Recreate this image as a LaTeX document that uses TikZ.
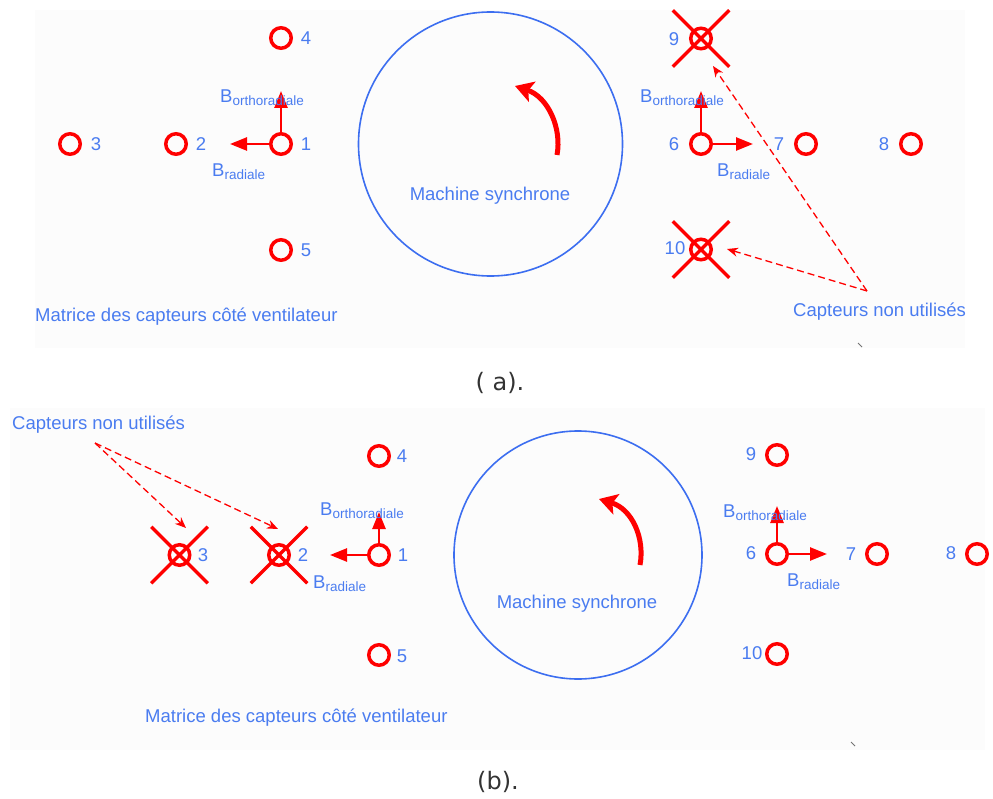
\documentclass[tikz,border=0pt]{standalone}
\usepackage{fontspec}
\setmainfont{Liberation Sans}
\newfontfamily\capfont{DejaVu Sans}
\usetikzlibrary{arrows.meta,shapes.misc}
\definecolor{tblue}{RGB}{74,124,240}
\definecolor{cblue}{RGB}{60,110,240}
\definecolor{sred}{RGB}{255,0,0}
\definecolor{panel}{RGB}{252,252,252}
\tikzset{
  sensor/.style={circle,draw=sred,line width=3.5pt,minimum size=20.5pt,inner sep=0pt},
  xmark/.style={cross out,draw=sred,line width=3.5pt,minimum size=53pt,inner sep=0pt},
  lbl/.style={text=tblue,font=\fontsize{18.5}{18.5}\selectfont,inner sep=0pt},
  vec/.style={draw=sred,line width=2.5pt,-{Triangle[length=17pt,width=13pt]}},
  rot/.style={draw=sred,line width=5pt,-{Stealth[length=18pt,width=21pt,inset=4pt]}},
  hint/.style={draw=sred,line width=1.3pt,dash pattern=on 7pt off 4pt,-{Stealth[length=11pt,width=9pt]}},
  machine/.style={circle,draw=cblue,line width=1.6pt,inner sep=0pt},
  captxt/.style={text=black!80,font=\capfont\fontsize{24}{24}\selectfont,inner sep=0pt},
  tick/.style={draw=black!55,line width=1pt}
}
\newcommand{\Bsub}[1]{B\raisebox{-3pt}{\fontsize{13.5}{13.5}\selectfont #1}}
\begin{document}
\begin{tikzpicture}[x=1pt,y=-1pt]
\useasboundingbox (0,0) rectangle (993,799);
% panels
\fill[panel] (35,10) rectangle (965,348);
\fill[panel] (10,408) rectangle (985,750);

% ================= (a) =================
\node[machine,minimum size=264pt] (ma) at (490.5,144) {};
\node[lbl] (mta) at (490,196) {Machine synchrone};
\coordinate (ra0) at (557,155);
\coordinate (ra1) at (515,86);
\draw[rot] (ra0) .. controls (562,128) and (548,97) .. (ra1);

% left matrix
\node[sensor] (a4) at (281,38) {};
\node[sensor] (a1) at (281,144) {};
\node[sensor] (a2) at (176,144) {};
\node[sensor] (a3) at (70,144) {};
\node[sensor] (a5) at (281,250) {};
\node[lbl] (la4) at (306,38) {4};
\node[lbl] (la1) at (306,144) {1};
\node[lbl] (la2) at (201,144) {2};
\node[lbl] (la3) at (96,144) {3};
\node[lbl] (la5) at (306,250) {5};
\coordinate (ta1l) at (230,144);
\coordinate (ta1u) at (281,91);
\draw[vec] (a1.west) -- (ta1l);
\draw[vec] (a1.north) -- (ta1u);
\node[lbl,anchor=base west] (ba1o) at (220,103) {\Bsub{orthoradiale}};
\node[lbl,anchor=base west] (ba1r) at (212,177) {\Bsub{radiale}};
\node[lbl,anchor=west] (mxa) at (35,317) {Matrice des capteurs côté ventilateur};

% right matrix
\node[sensor] (a9) at (701,38.5) {};
\node[sensor] (a6) at (701,144) {};
\node[sensor] (a7) at (806,144) {};
\node[sensor] (a8) at (911,144) {};
\node[sensor] (a10) at (701,249.5) {};
\node[xmark] (xa9) at (a9) {};
\node[xmark] (xa10) at (a10) {};
\node[lbl] (la9) at (674,39) {9};
\node[lbl] (la6) at (674,144) {6};
\node[lbl] (la7) at (779,144) {7};
\node[lbl] (la8) at (884,144) {8};
\node[lbl] (la10) at (675,248) {10};
\coordinate (ta6r) at (753,144);
\coordinate (ta6u) at (701,91);
\draw[vec] (a6.east) -- (ta6r);
\draw[vec] (a6.north) -- (ta6u);
\node[lbl,anchor=base west] (ba6o) at (640,103) {\Bsub{orthoradiale}};
\node[lbl,anchor=base west] (ba6r) at (717,177) {\Bsub{radiale}};
\node[lbl,anchor=west] (cna) at (793,312) {Capteurs non utilisés};
\coordinate (cpa) at (867,291);
\coordinate (tpa9) at (713,66);
\coordinate (tpa10) at (727,249);
\draw[hint] (cpa) -- (tpa9);
\draw[hint] (cpa) -- (tpa10);
\coordinate (tka0) at (858,343);
\coordinate (tka1) at (862,347);
\draw[tick] (tka0) -- (tka1);

\node[captxt] (capa) at (500,383) {( a).};

% ================= (b) =================
\node[machine,minimum size=248pt] (mb) at (578,555) {};
\node[lbl] (mtb) at (577,604) {Machine synchrone};
\coordinate (rb0) at (640,565);
\coordinate (rb1) at (599,499);
\draw[rot] (rb0) .. controls (645,538) and (632,509) .. (rb1);

% left matrix
\node[sensor] (b4) at (379,456) {};
\node[sensor] (b1) at (379,555) {};
\node[sensor] (b2) at (279,555) {};
\node[sensor] (b3) at (179.5,555) {};
\node[sensor] (b5) at (379,655) {};
\node[xmark] (xb2) at (b2) {};
\node[xmark] (xb3) at (b3) {};
\node[lbl] (lb4) at (402,456) {4};
\node[lbl] (lb1) at (403,555) {1};
\node[lbl] (lb2) at (303,555) {2};
\node[lbl] (lb3) at (203,555) {3};
\node[lbl] (lb5) at (402,656) {5};
\coordinate (tb1l) at (330,555);
\coordinate (tb1u) at (379,512);
\draw[vec] (b1.west) -- (tb1l);
\draw[vec] (b1.north) -- (tb1u);
\node[lbl,anchor=base west] (bb1o) at (320,515) {\Bsub{orthoradiale}};
\node[lbl,anchor=base west] (bb1r) at (313,588) {\Bsub{radiale}};
\node[lbl,anchor=west] (mxb) at (145,718) {Matrice des capteurs côté ventilateur};
\node[lbl,anchor=west] (cnb) at (12,425) {Capteurs non utilisés};
\coordinate (cpb) at (95,443);
\coordinate (tpb3) at (186,528);
\coordinate (tpb2) at (278,529);
\draw[hint] (cpb) -- (tpb3);
\draw[hint] (cpb) -- (tpb2);

% right matrix
\node[sensor] (b9) at (777,455) {};
\node[sensor] (b6) at (777,554) {};
\node[sensor] (b7) at (877,554) {};
\node[sensor] (b8) at (977,554) {};
\node[sensor] (b10) at (777,654) {};
\node[lbl] (lb9) at (751,454) {9};
\node[lbl] (lb6) at (751,553) {6};
\node[lbl] (lb7) at (851,554) {7};
\node[lbl] (lb8) at (951,553) {8};
\node[lbl] (lb10) at (752,653) {10};
\coordinate (tb6r) at (827,554);
\coordinate (tb6u) at (777,506);
\draw[vec] (b6.east) -- (tb6r);
\draw[vec] (b6.north) -- (tb6u);
\node[lbl,anchor=base west] (bb6o) at (723,517) {\Bsub{orthoradiale}};
\node[lbl,anchor=base west] (bb6r) at (787,586) {\Bsub{radiale}};
\coordinate (tkb0) at (851,742);
\coordinate (tkb1) at (855,746);
\draw[tick] (tkb0) -- (tkb1);

\node[captxt] (capb) at (498,782) {(b).};
\end{tikzpicture}
\end{document}
